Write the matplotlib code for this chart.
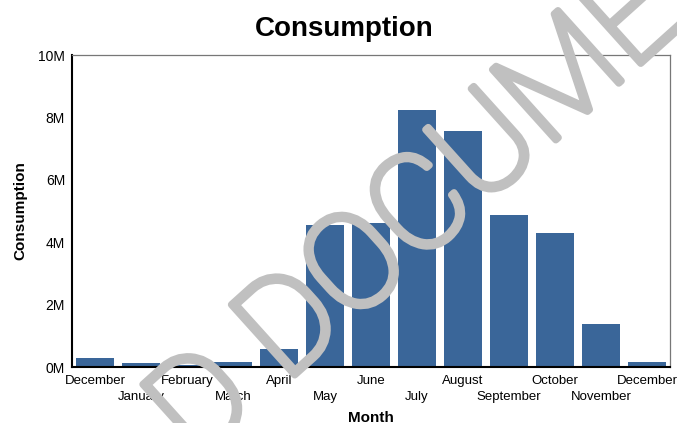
import matplotlib
matplotlib.use("Agg")
import matplotlib.pyplot as plt
import matplotlib.patheffects as pe
import numpy as np
from matplotlib.ticker import FuncFormatter

plt.rcParams["font.family"] = ["Liberation Sans", "DejaVu Sans"]

MONTHS = ["December", "January", "February", "March", "April", "May", "June",
          "July", "August", "September", "October", "November", "December"]
CONSUMPTION = [0.28e6, 0.12e6, 0.05e6, 0.15e6, 0.58e6, 4.56e6, 4.61e6,
               8.24e6, 7.56e6, 4.87e6, 4.29e6, 1.37e6, 0.15e6]
Y_TICKS = [0, 2e6, 4e6, 6e6, 8e6, 10e6]
WATERMARK = "D DOCUMENT"

BAR_COLOR = "#3a6699"

fig = plt.figure(figsize=(6.77, 4.23), dpi=100)
ax = fig.add_axes([72 / 677, 1 - 367 / 423, 598 / 677, 312 / 423])

x = np.arange(len(MONTHS))
ax.bar(x, CONSUMPTION, width=0.82, color=BAR_COLOR, zorder=2)

ax.set_xlim(-0.5, len(MONTHS) - 0.5)
ax.set_ylim(0, 10e6)
ax.set_yticks(Y_TICKS)
ax.yaxis.set_major_formatter(FuncFormatter(lambda v, p: f"{v / 1e6:.0f}M"))

# etichette mese sfalsate su due righe
ax.set_xticks(x)
ax.set_xticklabels([m if i % 2 == 0 else "\n" + m for i, m in enumerate(MONTHS)])
for lbl in ax.get_xticklabels():
    lbl.set_linespacing(1.5)
ax.tick_params(axis="both", length=0)
ax.tick_params(axis="x", pad=5.5, labelsize=9.5)
ax.tick_params(axis="y", pad=5, labelsize=10)

for side in ["left", "bottom"]:
    ax.spines[side].set_color("black")
    ax.spines[side].set_linewidth(1.5)
for side in ["top", "right"]:
    ax.spines[side].set_color("#777777")
    ax.spines[side].set_linewidth(0.9)

ax.set_xlabel("Month", fontsize=11, fontweight="bold", labelpad=6)
ax.set_ylabel("Consumption", fontsize=11, fontweight="bold", labelpad=8)
fig.text(344 / 677, 1 - 29 / 423, "Consumption", fontsize=20,
         fontweight="bold", ha="center", va="center")

# filigrana grigia sopra al grafico
fig.text(482 / 677, 1 - 157 / 423, WATERMARK, fontsize=96, fontweight="light",
         family=["Roboto", "DejaVu Sans"], color="#c0c0c0", ha="center",
         va="center", rotation=42, rotation_mode="anchor", zorder=10,
         path_effects=[pe.Stroke(linewidth=5, foreground="#c0c0c0"), pe.Normal()])

fig.savefig("out.png", dpi=100)
